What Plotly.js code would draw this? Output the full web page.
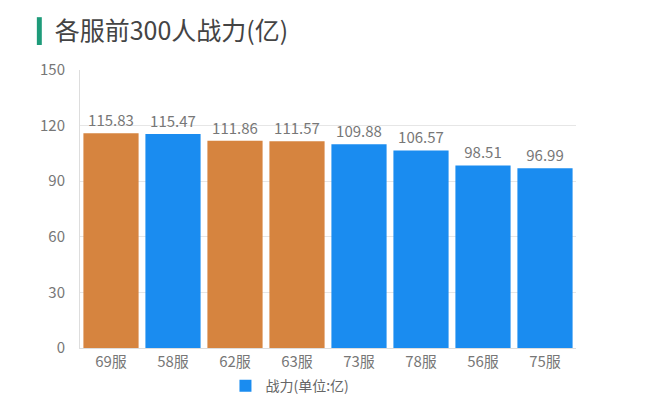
<!DOCTYPE html>
<html>
<head>
<meta charset="utf-8">
<script src="https://cdn.plot.ly/plotly-3.0.1.min.js"></script>
<style>
  html, body { margin: 0; padding: 0; background: #fff; }
  #chart { width: 659px; height: 413px; }
</style>
</head>
<body>
<div id="chart"></div>
<script>
var servers = ['69服', '58服', '62服', '63服', '73服', '78服', '56服', '75服'];
var power = [115.83, 115.47, 111.86, 111.57, 109.88, 106.57, 98.51, 96.99];
var highlighted = ['69服', '62服', '63服'];
var yTicks = [0, 30, 60, 90, 120, 150];

var orange = '#d6843f';
var blue = '#1a8cf0';
var font = '"Noto Sans CJK SC", "Noto Sans", sans-serif';

function pick(isHi) {
  return servers.map(function (s, i) {
    return (highlighted.indexOf(s) >= 0) === isHi ? power[i] : null;
  });
}

function barTrace(values, color, showLegend) {
  return {
    x: servers,
    y: values,
    type: 'bar',
    name: '战力(单位:亿)',
    showlegend: showLegend,
    marker: { color: color },
    text: values.map(function (v) { return v === null ? '' : v.toFixed(2); }),
    textposition: 'outside',
    textfont: { color: '#777', size: 15, family: font },
    cliponaxis: false
  };
}

var data = [
  barTrace(pick(false), blue, true),
  barTrace(pick(true), orange, false)
];

var layout = {
  width: 659,
  height: 413,
  margin: { l: 80, r: 83, t: 70, b: 65 },
  paper_bgcolor: '#fff',
  plot_bgcolor: '#fff',
  font: { family: font, color: '#666', size: 15 },
  barmode: 'overlay',
  bargap: 0.11,
  title: {
    text: '各服前300人战力(亿)',
    font: { family: font, size: 25, color: '#444' },
    x: 0.083, xanchor: 'left',
    y: 0.925, yanchor: 'middle'
  },
  xaxis: {
    type: 'category',
    showgrid: false,
    showline: true,
    linecolor: '#ddd',
    ticks: '',
    tickfont: { size: 15, color: '#777' }
  },
  yaxis: {
    range: [0, 150],
    tickvals: yTicks,
    showgrid: true,
    gridcolor: '#e6e6e6',
    zeroline: false,
    showline: true,
    linecolor: '#ddd',
    ticks: 'outside',
    ticklen: 11,
    tickcolor: 'rgba(0,0,0,0)',
    tickfont: { size: 15, color: '#777' }
  },
  showlegend: true,
  legend: {
    orientation: 'h',
    xref: 'container', yref: 'container',
    x: 0.44, xanchor: 'center',
    y: 0.065, yanchor: 'middle',
    font: { size: 14, color: '#666' }
  },
  shapes: [{
    type: 'rect',
    xref: 'paper', yref: 'paper',
    x0: -0.087, x1: -0.077,
    y0: 1.09, y1: 1.19,
    fillcolor: '#1e9b7a',
    line: { width: 0 }
  }]
};

Plotly.newPlot('chart', data, layout, { displayModeBar: false, staticPlot: true });
</script>
</body>
</html>
